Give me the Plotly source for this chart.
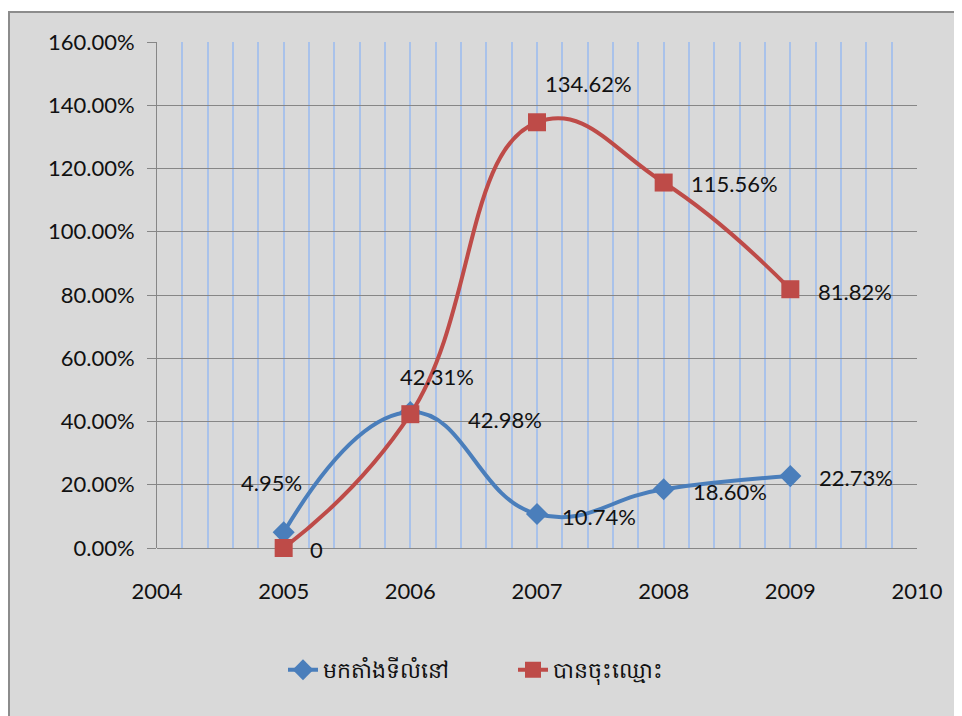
import plotly.graph_objects as go

years = [2005, 2006, 2007, 2008, 2009]
settled = [4.95, 42.98, 10.74, 18.60, 22.73]
registered = [0, 42.31, 134.62, 115.56, 81.82]
settled_labels = ["4.95%", "42.98%", "10.74%", "18.60%", "22.73%"]
registered_labels = ["0", "42.31%", "134.62%", "115.56%", "81.82%"]
series_names = ["មកតាំងទីលំនៅ", "បានចុះឈ្មោះ"]

BLUE = "#4a7ebb"
RED = "#be4b48"
FONT = "Lato, Liberation Sans, sans-serif"

# label offsets (xshift, yshift, xanchor) - hand tuned to the Excel look
settled_pos = [(-12, 50, "center"), (56, -7, "left"), (23, -2, "left"),
               (27, -2, "left"), (27, -1, "left")]
registered_pos = [(24, -1, "left"), (-12, 38, "left"), (6, 39, "left"),
                  (25, -1, "left"), (26, -2, "left")]

fig = go.Figure()

fig.add_trace(go.Scatter(
    x=years, y=settled, name=series_names[0],
    mode="lines+markers", cliponaxis=False,
    line=dict(color=BLUE, width=4, shape="spline", smoothing=1.3),
    marker=dict(symbol="diamond", size=17, color=BLUE),
))
fig.add_trace(go.Scatter(
    x=years, y=registered, name=series_names[1],
    mode="lines+markers", cliponaxis=False,
    line=dict(color=RED, width=4, shape="spline", smoothing=1.3),
    marker=dict(symbol="square", size=18, color=RED),
))

annotations = []
for ys, labels, pos in [(settled, settled_labels, settled_pos),
                        (registered, registered_labels, registered_pos)]:
    for x, y, t, (dx, dy, xa) in zip(years, ys, labels, pos):
        annotations.append(dict(
            x=x, y=y, text=t, showarrow=False, xanchor=xa, yanchor="middle",
            xshift=dx, yshift=dy, font=dict(family=FONT, size=22, color="#111111"),
        ))

# outer chart frame (grey panel with darker top/left edge)
shapes = [dict(
    type="rect", xref="paper", yref="paper", layer="below",
    x0=(9 - 157) / 760, x1=(975 - 157) / 760,
    y0=(548 - 730) / 506, y1=(548 - 12) / 506,
    fillcolor="#d9d9d9", line=dict(color="#8c8c8c", width=2),
)]

# page body has an 8px margin, so the figure is 8px smaller than the window
fig.update_layout(
    width=954, height=708,
    margin=dict(l=149, r=45, t=34, b=168),
    paper_bgcolor="white",
    plot_bgcolor="#d9d9d9",
    font=dict(family=FONT, size=22, color="#111111"),
    annotations=annotations,
    shapes=shapes,
    showlegend=True,
    legend=dict(
        orientation="h", x=(283 - 157) / 760, xanchor="left",
        y=-0.241, yanchor="middle", entrywidth=185,
        font=dict(size=22), bgcolor="rgba(0,0,0,0)",
    ),
    xaxis=dict(
        range=[2004, 2010], dtick=1, tick0=2004,
        showgrid=True, gridcolor="#a9c2ea", gridwidth=2,
        minor=dict(dtick=0.2, showgrid=True, gridcolor="#a9c2ea", gridwidth=2),
        zeroline=False, showline=False, ticks="",
        ticklabelstandoff=28,
    ),
    yaxis=dict(
        range=[0, 160], dtick=20, tickformat=".2f", ticksuffix="%",
        showgrid=True, gridcolor="#868686", gridwidth=1,
        zeroline=True, zerolinecolor="#868686", zerolinewidth=1,
        showline=True, linecolor="#868686", linewidth=1,
        ticks="outside", ticklen=9, tickcolor="#868686",
        ticklabelstandoff=8,
    ),
)

fig.write_html("out.html")
